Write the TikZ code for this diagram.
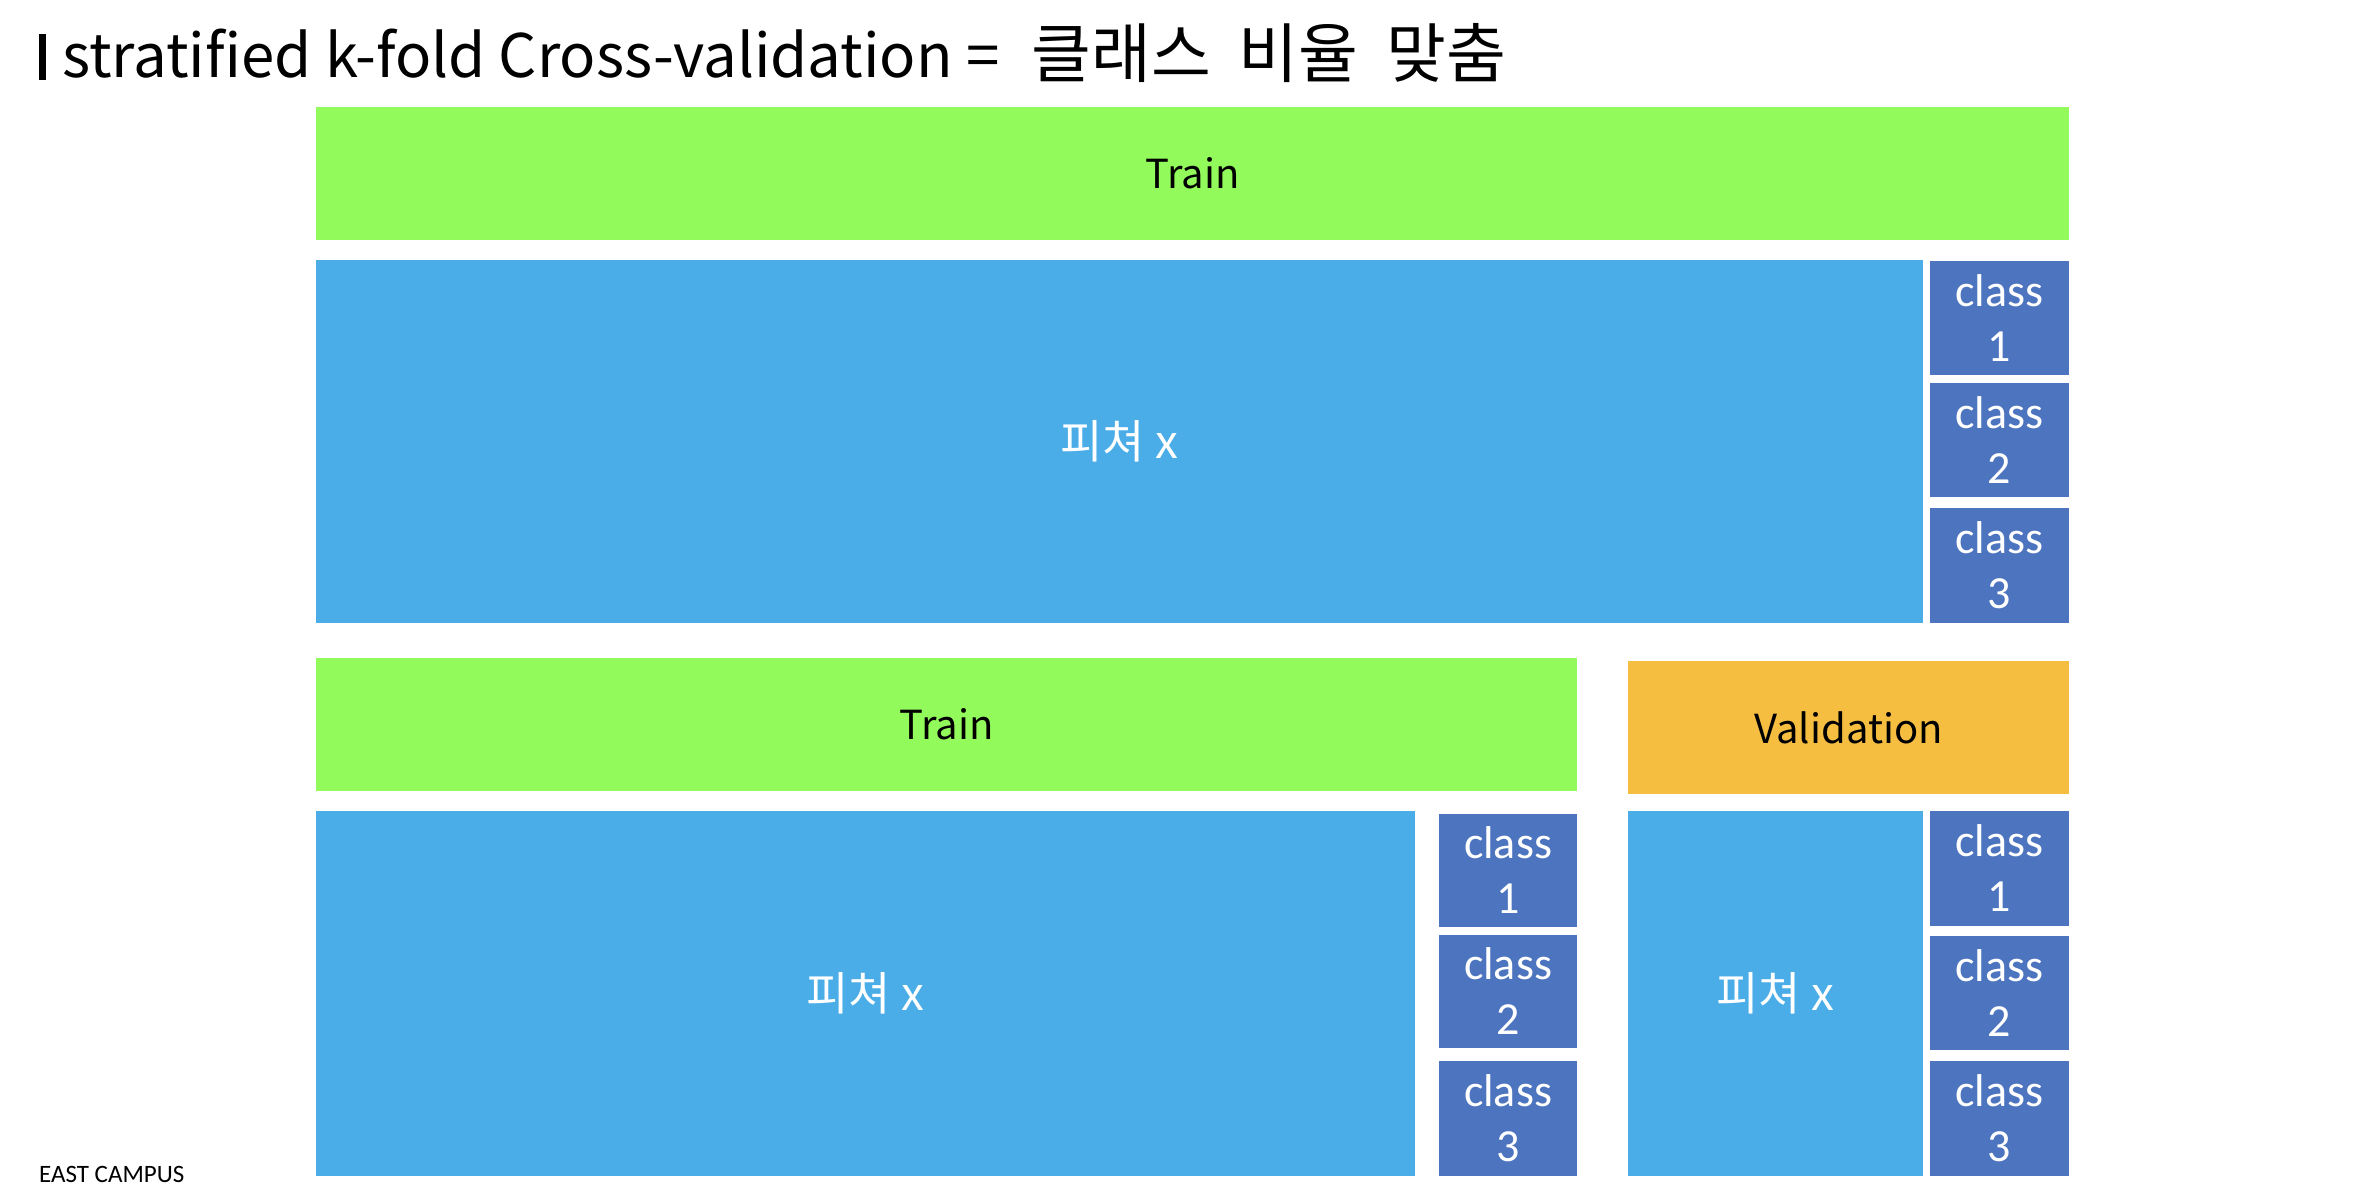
\documentclass[tikz,border=0pt]{standalone}
\usepackage{fontspec}
\setmainfont{Carlito}
\newfontfamily\kr{Noto Sans CJK KR}
\definecolor{trainG}{RGB}{146,250,91}
\definecolor{featB}{RGB}{75,173,232}
\definecolor{clsB}{RGB}{77,116,190}
\definecolor{valO}{RGB}{245,190,65}
\tikzset{
  blk/.style={inner sep=0pt, outer sep=0pt, anchor=north west, align=center},
  trainbox/.style={blk, fill=trainG, text=black, font=\kr\fontsize{40}{48}\selectfont},
  valbox/.style={blk, fill=valO, text=black, font=\kr\fontsize{40}{48}\selectfont},
  featbox/.style={blk, fill=featB, text=white, font=\kr\fontsize{46}{55}\selectfont},
  clsbox/.style={blk, fill=clsB, text=white, font=\fontsize{46}{55}\selectfont},
}
\begin{document}
\begin{tikzpicture}[x=1pt,y=-1pt]
\useasboundingbox (0,0) rectangle (2356,1186);
\fill[white] (0,0) rectangle (2356,1186);
% title
\fill[black] (39,34) rectangle (46,80);
\node[anchor=base west, inner sep=0pt] (title) at (62,77)
  {{\kr\fontsize{60}{72}\selectfont stratified k-fold Cross-validation =}\hspace{32pt}{\kr\fontsize{65}{72}\selectfont 클래스\hspace{28pt}비율\hspace{28pt}맞춤}};
% top row
\node[trainbox, minimum width=1753pt, minimum height=133pt] (train1) at (316,107) {Train};
\node[featbox, minimum width=1607pt, minimum height=363pt] (feat1) at (316,260) {피쳐 x};
\node[clsbox, minimum width=139pt, minimum height=114pt] (c1a) at (1930,261) {class\\1};
\node[clsbox, minimum width=139pt, minimum height=114pt] (c2a) at (1930,383) {class\\2};
\node[clsbox, minimum width=139pt, minimum height=115pt] (c3a) at (1930,508) {class\\3};
% bottom left
\node[trainbox, minimum width=1261pt, minimum height=133pt] (train2) at (316,658) {Train};
\node[featbox, minimum width=1099pt, minimum height=365pt] (feat2) at (316,811) {피쳐 x};
\node[clsbox, minimum width=138pt, minimum height=113pt] (c1b) at (1439,814) {class\\1};
\node[clsbox, minimum width=138pt, minimum height=113pt] (c2b) at (1439,935) {class\\2};
\node[clsbox, minimum width=138pt, minimum height=115pt] (c3b) at (1439,1061) {class\\3};
% bottom right
\node[valbox, minimum width=441pt, minimum height=133pt] (val) at (1628,661) {Validation};
\node[featbox, minimum width=295pt, minimum height=365pt] (feat3) at (1628,811) {피쳐 x};
\node[clsbox, minimum width=139pt, minimum height=115pt] (c1c) at (1930,811) {class\\1};
\node[clsbox, minimum width=139pt, minimum height=114pt] (c2c) at (1930,936) {class\\2};
\node[clsbox, minimum width=139pt, minimum height=115pt] (c3c) at (1930,1061) {class\\3};
% footer
\node[anchor=base west, inner sep=0pt, font=\fontsize{25}{30}\selectfont] (footer) at (39,1182) {EAST CAMPUS};
\end{tikzpicture}
\end{document}
